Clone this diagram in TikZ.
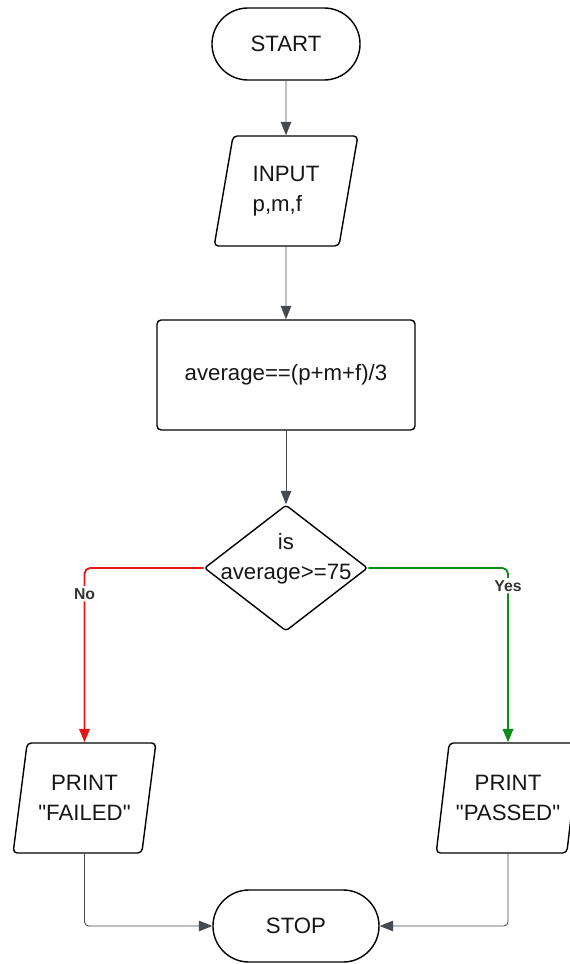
\documentclass[tikz,border=0pt]{standalone}
\usepackage{fontspec}
\setmainfont{Liberation Sans}[Ligatures=TeXOff]
\usetikzlibrary{shapes.geometric,arrows.meta}
\definecolor{white}{RGB}{255,255,255}
\definecolor{black}{RGB}{0,0,0}
\definecolor{text_black}{RGB}{22,22,22}
\definecolor{line_gray}{RGB}{68,74,80}
\definecolor{label_gray}{RGB}{51,51,51}
\definecolor{no_red}{RGB}{228,22,22}
\definecolor{yes_green}{RGB}{14,140,24}

\tikzset{
	boxtext/.style={text=text_black,font=\fontsize{15.8}{21}\selectfont,align=center},
	terminal/.style={rectangle,draw=black,line width=1pt,rounded corners=0.9cm,minimum height=1.8cm,boxtext},
	io/.style={trapezium,trapezium left angle=77,trapezium right angle=103,trapezium stretches=true,draw=black,line width=1pt,rounded corners=3pt,minimum width=3.6cm,minimum height=2.75cm,boxtext},
	process/.style={rectangle,draw=black,line width=1pt,rounded corners=3pt,minimum width=6.45cm,minimum height=2.75cm,boxtext},
	decision/.style={diamond,draw=black,line width=1pt,rounded corners=2pt,minimum width=4.08cm,minimum height=3.15cm,inner sep=0pt,boxtext},
	flow/.style={line_gray,line width=0.6pt,rounded corners=3pt,-{Triangle[length=9.5pt,width=7.5pt]}},
	noflow/.style={no_red,line width=1.3pt,rounded corners=4pt,-{Triangle[length=9.5pt,width=7.5pt]}},
	yesflow/.style={yes_green,line width=1.3pt,rounded corners=4pt,-{Triangle[length=9.5pt,width=7.5pt]}},
	branch/.style={fill=white,text=label_gray,font=\bfseries\fontsize{11.2}{13}\selectfont,inner sep=1.5pt}
}

\begin{document}
\begin{tikzpicture}[x=0.025cm,y=-0.025cm]
	\useasboundingbox (0,0) rectangle (570,964);

	\node[terminal,minimum width=3.7cm] (start) at (286,44) {START};
	\node[io,align=left] (input) at (286,191) {INPUT\\p,m,f};
	\node[process] (calc) at (286,375) {average==(p+m+f)/3};
	\node[decision] (dec) at (286,568) {\raisebox{6pt}{\makebox[0pt]{\smash{\begin{tabular}{@{}c@{}}is\\average>=75\end{tabular}}}}};
	\node[io] (failed) at (84.5,798) {PRINT\\"FAILED"};
	\node[io] (passed) at (508,798) {PRINT\\"PASSED"};
	\node[terminal,minimum width=4.15cm] (stop) at (296,926) {STOP};

	\foreach \x/\y in {start/input,input/calc,calc/dec}
		\draw[flow] (\x) -- (\y);

	\draw[noflow] (dec) -| node[branch,pos=0.574] {No} (failed);
	\draw[yesflow] (dec) -| node[branch,pos=0.551] {Yes} (passed);

	\draw[flow] (failed) |- (stop);
	\draw[flow] (passed) |- (stop);
\end{tikzpicture}
\end{document}
